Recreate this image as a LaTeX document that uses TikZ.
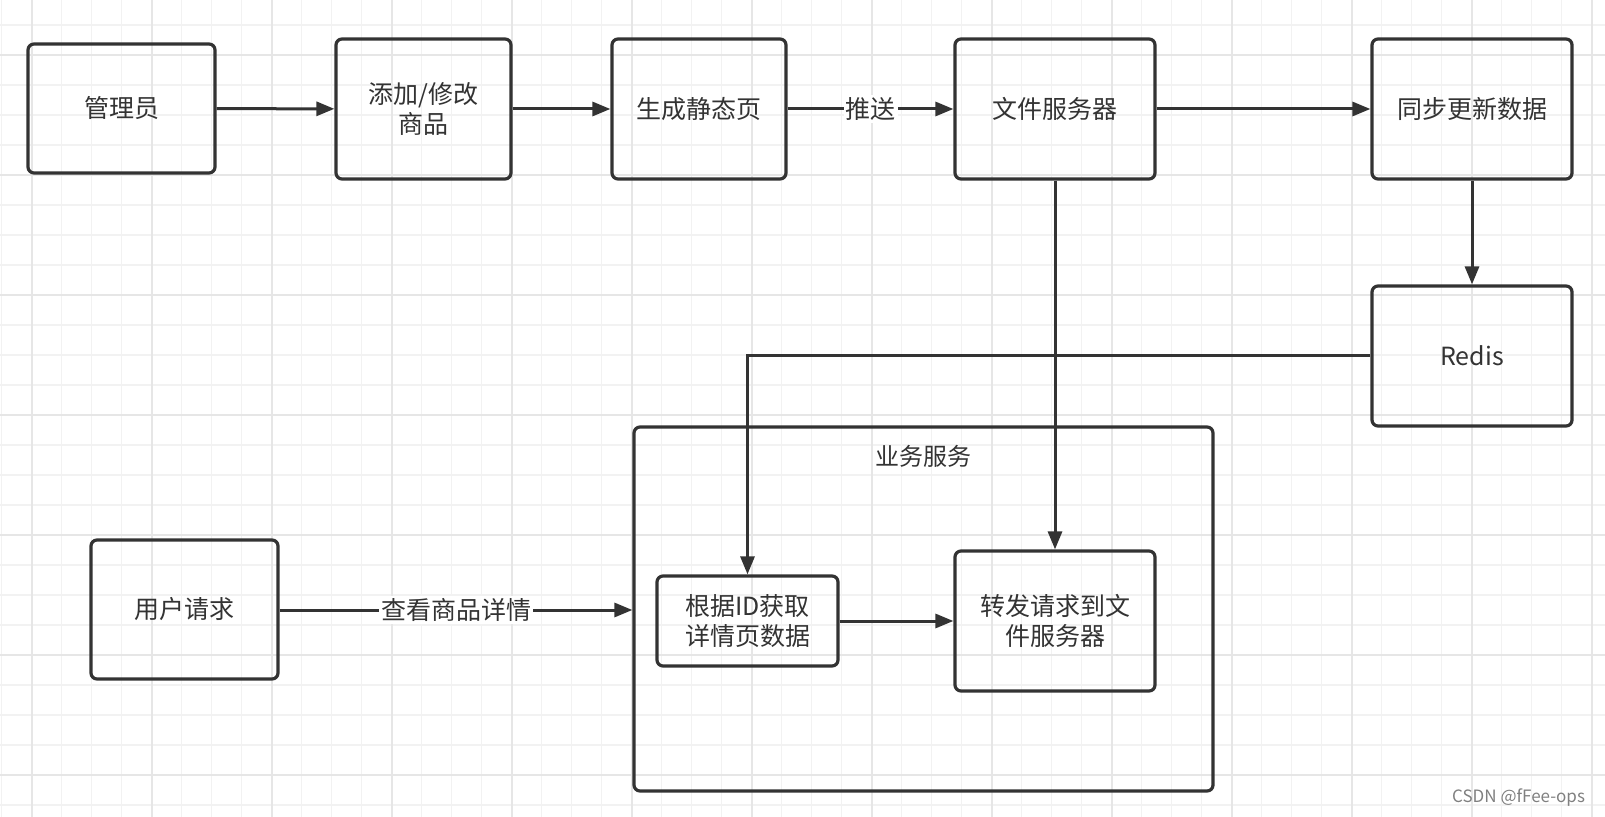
\documentclass[tikz,border=0pt]{standalone}
\usepackage{fontspec}
\setmainfont{Noto Sans CJK SC}
\usetikzlibrary{arrows.meta}
\definecolor{gmin}{HTML}{F2F2F2}
\definecolor{gmaj}{HTML}{E6E6E6}
\definecolor{ink}{HTML}{333333}
\begin{document}
\begin{tikzpicture}[x=0.5pt,y=-0.5pt,
  box/.style={draw=ink,line width=1.6pt,rounded corners=3pt,align=center,font=\fontsize{12.5}{15}\selectfont,text=ink},
  arr/.style={draw=ink,line width=1.5pt,-{Triangle[length=9pt,width=7pt]}},
  lab/.style={fill=white,font=\fontsize{12.5}{15}\selectfont,text=ink,inner sep=1pt}]
\useasboundingbox (0,0) rectangle (1605,817);
\fill[white] (0,0) rectangle (1605,817);
\foreach \x in {1.7,31.7,...,1605} \draw[gmin,line width=0.6pt] (\x,0) -- (\x,817);
\foreach \y in {25,55,...,817} \draw[gmin,line width=0.6pt] (0,\y) -- (1605,\y);
\foreach \x in {31.7,151.7,...,1605} \draw[gmaj,line width=0.8pt] (\x,0) -- (\x,817);
\foreach \y in {55,175,...,817} \draw[gmaj,line width=0.8pt] (0,\y) -- (1605,\y);
\node[box,minimum width=187pt*0.5,minimum height=129pt*0.5] (A) at (121.5,108.5) {管理员};
\node[box,minimum width=175pt*0.5,minimum height=140pt*0.5] (B) at (423.5,109) {添加/修改\\商品};
\node[box,minimum width=174pt*0.5,minimum height=140pt*0.5] (C) at (699,109) {生成静态页};
\node[box,minimum width=200pt*0.5,minimum height=140pt*0.5] (D) at (1055,109) {文件服务器};
\node[box,minimum width=200pt*0.5,minimum height=140pt*0.5] (E) at (1472,109) {同步更新数据};
\node[box,minimum width=200pt*0.5,minimum height=140pt*0.5] (F) at (1472,356) {Redis};
\node[box,minimum width=579pt*0.5,minimum height=364pt*0.5] (G) at (923.5,609) {};
\node[font=\fontsize{12}{14}\selectfont,text=ink] (Gt) at (923,456) {业务服务};
\node[box,minimum width=181pt*0.5,minimum height=90pt*0.5] (H) at (747.5,621) {根据ID获取\\详情页数据};
\node[box,minimum width=200pt*0.5,minimum height=140pt*0.5] (I) at (1055,621) {转发请求到文\\件服务器};
\node[box,minimum width=187pt*0.5,minimum height=139pt*0.5] (J) at (184.5,609.5) {用户请求};
\draw[arr] (A) -- (B);
\draw[arr] (B) -- (C);
\draw[arr] (C) -- node[lab]{推送} (D);
\draw[arr] (D) -- (E);
\draw[arr] (E) -- (F);
\draw[arr] (F.west) -| (H.north);
\draw[arr] (D.south) -- (I.north);
\draw[arr] (J.east |- 0,610) -- node[lab]{查看商品详情} (G.west |- 0,610);
\draw[arr] (H.east) -- (I.west |- H.east);
\node[text=gray,font=\fontsize{8.5}{10}\selectfont,anchor=east] (W) at (1592,798) {CSDN @fFee-ops};
\end{tikzpicture}
\end{document}
